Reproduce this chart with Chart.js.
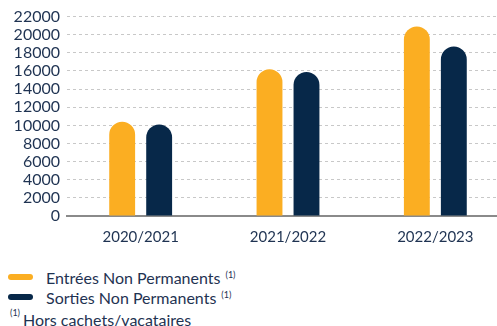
<!DOCTYPE html>
<html lang="fr">
<head>
  <meta charset="UTF-8">
  <title>Entrées / Sorties Non Permanents</title>
  <style>
    html, body {
      margin: 0;
      padding: 0;
      background: #fff;
      width: 497px;
      height: 326px;
      overflow: hidden;
      font-family: 'Lato', sans-serif;
      color: #1f3352;
    }
    .chart-box {
      position: absolute;
      left: 0;
      top: 0;
      width: 512px;
      height: 258px;
    }
    .legend {
      position: absolute;
      left: 8px;
      top: 267px;
      font-size: 16px;
    }
    .legend-item {
      display: flex;
      align-items: center;
      height: 20px;
    }
    .legend-item .swatch {
      width: 25px;
      height: 6px;
      border-radius: 3px;
      margin-right: 13px;
    }
    sup {
      font-size: 9px;
      vertical-align: top;
      position: relative;
      top: -3px;
      margin-left: 5px;
    }
    .note {
      position: absolute;
      left: 10px;
      top: 310px;
      font-size: 16px;
    }
    .note sup {
      margin-left: 0;
      margin-right: 3px;
    }
  </style>
  <script src="https://cdn.jsdelivr.net/npm/chart.js"></script>
</head>
<body>
  <div class="chart-box"><canvas id="chart"></canvas></div>
  <div class="legend" id="legend"></div>
  <div class="note"><sup>(1)</sup>Hors cachets/vacataires</div>

  <script>
    const years = ['2020/2021', '2021/2022', '2022/2023'];
    const entrees = [10400, 16200, 20900];
    const sorties = [10100, 15900, 18700];
    const seriesNames = ['Entrées Non Permanents', 'Sorties Non Permanents'];
    const yTicks = [0, 2000, 4000, 6000, 8000, 10000, 12000, 14000, 16000, 18000, 20000, 22000];

    const orange = '#fbae22';
    const navy = '#072849';
    const textColor = '#1f3352';

    const barStyle = {
      borderRadius: { topLeft: 13, topRight: 13, bottomLeft: 0, bottomRight: 0 },
      borderSkipped: false,
      categoryPercentage: 0.502,
      barPercentage: 0.70
    };

    new Chart(document.getElementById('chart'), {
      type: 'bar',
      data: {
        labels: years,
        datasets: [
          Object.assign({ label: seriesNames[0], data: entrees, backgroundColor: orange }, barStyle),
          Object.assign({ label: seriesNames[1], data: sorties, backgroundColor: navy }, barStyle)
        ]
      },
      options: {
        responsive: true,
        maintainAspectRatio: false,
        animation: false,
        layout: { padding: { top: 7, right: 3, left: 0, bottom: 0 } },
        plugins: {
          legend: { display: false },
          tooltip: { enabled: false }
        },
        scales: {
          x: {
            grid: { display: false, drawTicks: false },
            border: { display: true, color: '#8a8a8a', width: 2 },
            ticks: {
              color: textColor,
              font: { family: 'Lato', size: 15 },
              padding: 12
            }
          },
          y: {
            min: 0,
            max: 22000,
            afterBuildTicks: (scale) => {
              scale.ticks = yTicks.map(v => ({ value: v }));
            },
            afterFit: (scale) => { scale.width = 67; },
            grid: {
              color: '#c8c8c8',
              drawTicks: false
            },
            border: { display: false, dash: [3, 3] },
            ticks: {
              color: textColor,
              font: { family: 'Lato', size: 16 },
              padding: 7,
              autoSkip: false,
              callback: (v) => String(v)
            }
          }
        }
      }
    });

    const legend = document.getElementById('legend');
    [orange, navy].forEach((c, i) => {
      const item = document.createElement('div');
      item.className = 'legend-item';
      item.innerHTML = '<span class="swatch" style="background:' + c + '"></span>' +
        seriesNames[i] + '<sup>(1)</sup>';
      legend.appendChild(item);
    });
  </script>
</body>
</html>
